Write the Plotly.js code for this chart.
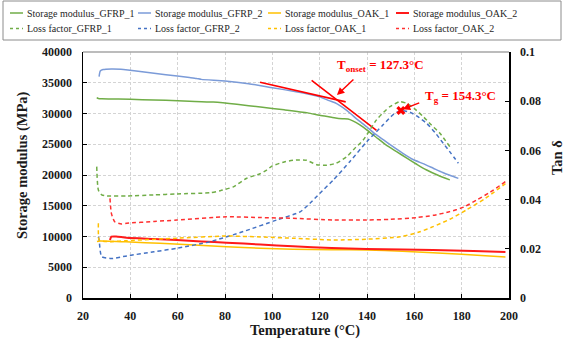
<!DOCTYPE html>
<html>
<head>
<meta charset="utf-8">
<script src="https://cdn.plot.ly/plotly-3.0.1.min.js"></script>
<style>
  html, body { margin: 0; padding: 0; background: #fff; }
  #chart { width: 565px; height: 341px; }
</style>
</head>
<body>
<div id="chart"></div>
<script>
// ---- Storage modulus (MPa) vs temperature (°C) ----
const smGfrp1T = [25.8, 26.5, 28, 35, 45, 55, 65, 75, 85, 95, 105, 115, 120, 125, 128, 130, 132, 134, 137, 140, 144, 148, 152.5, 157, 161, 165, 170, 175];
const smGfrp1  = [32600, 32450, 32400, 32350, 32250, 32150, 32000, 31850, 31500, 31050, 30600, 30100, 29700, 29400, 29200, 29150, 29100, 28800, 28150, 27300, 26100, 24900, 23800, 22700, 21750, 20850, 19950, 19200];

const smGfrp2T = [26.8, 27.3, 28.5, 32, 36, 45, 55, 65, 68, 70, 80, 90, 100, 110, 116, 120, 124, 127, 130, 133, 136, 140, 143, 147, 151, 155, 159, 164, 168, 172, 175, 178.6];
const smGfrp2  = [36000, 36900, 37150, 37250, 37200, 36800, 36300, 35850, 35700, 35550, 35300, 34850, 34200, 33550, 33100, 32700, 32100, 31650, 30900, 30000, 29000, 27800, 26800, 25700, 24600, 23550, 22600, 21800, 21100, 20400, 19950, 19450];

const smOak1T = [25.9, 27.2, 40, 52.5, 65, 80.7, 95, 108.7, 125, 139.9, 155, 167.9, 180, 190, 198.5];
const smOak1  = [9200, 9270, 9100, 8890, 8650, 8340, 8100, 7920, 7850, 7800, 7600, 7370, 7100, 6850, 6650];

const smOak2T = [31.4, 32, 34, 38.4, 50, 59.6, 70, 80.7, 95, 108.7, 125, 139.8, 155, 167.9, 185, 198.5];
const smOak2  = [9430, 9970, 10000, 9800, 9600, 9430, 9200, 8990, 8700, 8400, 8150, 7970, 7880, 7800, 7650, 7500];

// ---- Loss factor (tan δ) vs temperature (°C) ----
const lfGfrp1T = [25.8, 26.5, 27.9, 30, 38.4, 50, 59.6, 73.7, 78, 83.5, 89.2, 94.8, 97.6, 100, 105, 110, 114.5, 118.7, 123, 127, 131.4, 134.5, 138.4, 141, 144, 147, 149.7, 153.9, 156.8, 160, 163.8, 167, 170.8, 175];
const lfGfrp1  = [0.0534, 0.0439, 0.0419, 0.0415, 0.0415, 0.0419, 0.0423, 0.0428, 0.0436, 0.0452, 0.0487, 0.0505, 0.0520, 0.0537, 0.0553, 0.0561, 0.0560, 0.0542, 0.0540, 0.0548, 0.0574, 0.0605, 0.0642, 0.0680, 0.0724, 0.0755, 0.0778, 0.0798, 0.0791, 0.0770, 0.0737, 0.0705, 0.0670, 0.0615];

const lfGfrp2T = [26.5, 26.8, 27.9, 31.4, 32.7, 38.5, 50, 59.6, 73.7, 87.7, 101.8, 111.7, 115.9, 120, 125.8, 132.8, 139.9, 146.9, 151, 154.3, 158.2, 161.5, 165.2, 168.8, 172.2, 175.5, 178.6];
const lfGfrp2  = [0.0249, 0.0236, 0.0168, 0.0161, 0.0161, 0.0171, 0.0188, 0.0202, 0.0229, 0.0270, 0.0317, 0.0350, 0.0385, 0.0425, 0.0480, 0.0555, 0.0635, 0.0705, 0.0745, 0.0762, 0.0755, 0.0737, 0.0710, 0.0672, 0.0629, 0.0588, 0.0548];

const lfOak1T = [26.5, 26.8, 28, 31.4, 38.5, 59.6, 80.7, 95, 108.7, 125.8, 139.9, 154, 162, 167.9, 175, 182, 190, 198.5];
const lfOak1  = [0.0304, 0.0236, 0.0231, 0.0229, 0.0233, 0.0243, 0.0252, 0.0248, 0.0243, 0.0236, 0.0239, 0.0249, 0.0268, 0.0290, 0.0320, 0.0358, 0.0405, 0.0465];

const lfOak2T = [31.4, 32, 33.4, 36.3, 38.5, 50, 59.6, 80.7, 95, 108.7, 125.8, 139.9, 150, 161, 168, 175, 181, 186.3, 192, 198.5];
const lfOak2  = [0.0405, 0.0344, 0.0310, 0.0301, 0.0304, 0.0311, 0.0317, 0.0330, 0.0327, 0.0324, 0.0317, 0.0317, 0.0320, 0.0327, 0.0336, 0.0351, 0.0370, 0.0398, 0.0430, 0.0473];

// ---- Onset tangents on GFRP_2 storage modulus, and Tg peak ----
const onsetTemp = 127.3;
const tangentGlassyT = [94.8, 131];
const tangentGlassy  = [35070, 31890];
const tangentDropT   = [116.6, 144];
const tangentDrop    = [35388, 27266];
const tgTemp = 154.3;
const tgTanDelta = 0.0762;

// ---- Axis tick values ----
const tempTicks = [20, 40, 60, 80, 100, 120, 140, 160, 180, 200];
const modulusTicks = [0, 5000, 10000, 15000, 20000, 25000, 30000, 35000, 40000];
const tanTicks = [0, 0.02, 0.04, 0.06, 0.08, 0.1];

const SERIF = 'Liberation Serif, Times New Roman, serif';
const RED = '#ff0000';

// Series list (legend columns GFRP_1, GFRP_2, OAK_1, OAK_2; storage row then loss row)
const series = [
  { name: 'Storage modulus_GFRP_1', x: smGfrp1T, y: smGfrp1, color: '#70ad47', loss: false, col: 0 },
  { name: 'Storage modulus_GFRP_2', x: smGfrp2T, y: smGfrp2, color: '#7b9bd8', loss: false, col: 1 },
  { name: 'Storage modulus_OAK_1',  x: smOak1T,  y: smOak1,  color: '#ffc000', loss: false, col: 2 },
  { name: 'Storage modulus_OAK_2',  x: smOak2T,  y: smOak2,  color: '#ff1a1a', loss: false, col: 3, width: 2 },
  { name: 'Loss factor_GFRP_1', x: lfGfrp1T, y: lfGfrp1, color: '#70ad47', loss: true, col: 0 },
  { name: 'Loss factor_GFRP_2', x: lfGfrp2T, y: lfGfrp2, color: '#4472c4', loss: true, col: 1 },
  { name: 'Loss factor_OAK_1',  x: lfOak1T,  y: lfOak1,  color: '#ffc000', loss: true, col: 2 },
  { name: 'Loss factor_OAK_2',  x: lfOak2T,  y: lfOak2,  color: '#ff3030', loss: true, col: 3 }
];
const LOSS_DASH = '4px,3px';

const traces = series.map(s => ({
  type: 'scatter', mode: 'lines', name: s.name,
  x: s.x, y: s.y, yaxis: s.loss ? 'y2' : 'y',
  line: { color: s.color, width: s.width || 1.5, dash: s.loss ? LOSS_DASH : 'solid', shape: 'spline', smoothing: 0.6 },
  hoverinfo: 'x+y+name'
}));

traces.push(
  { type: 'scatter', mode: 'lines', x: tangentGlassyT, y: tangentGlassy, yaxis: 'y',
    line: { color: RED, width: 1.6 }, showlegend: false, hoverinfo: 'skip' },
  { type: 'scatter', mode: 'lines', x: tangentDropT, y: tangentDrop, yaxis: 'y',
    line: { color: RED, width: 1.6 }, showlegend: false, hoverinfo: 'skip' },
  { type: 'scatter', mode: 'markers', x: [tgTemp], y: [tgTanDelta], yaxis: 'y2',
    marker: { symbol: 'x', size: 8, color: RED, line: { width: 0 } }, showlegend: false, hoverinfo: 'x+y' }
);

// Plot-area geometry (pixels) used to place the figure furniture
const W = 565, H = 341;
const M = { l: 83, r: 56, t: 52, b: 43 };
const plotW = W - M.l - M.r, plotH = H - M.t - M.b;
const px2x = px => (px - M.l) / plotW;
const py2y = py => (H - M.b - py) / plotH;

const annotations = [];
const shapes = [];

// Axis titles
const titleFont = { family: SERIF, size: 14.5, color: '#1a1a1a', weight: 'bold' };
annotations.push(
  { text: 'Temperature (°C)', xref: 'paper', yref: 'paper', x: px2x(305), y: py2y(330),
    xanchor: 'center', yanchor: 'middle', showarrow: false, font: titleFont },
  { text: 'Storage modulus (MPa)', xref: 'paper', yref: 'paper', x: px2x(22), y: py2y(165),
    xanchor: 'center', yanchor: 'middle', textangle: -90, showarrow: false, font: titleFont },
  { text: 'Tan δ', xref: 'paper', yref: 'paper', x: px2x(557), y: py2y(158),
    xanchor: 'center', yanchor: 'middle', textangle: -90, showarrow: false, font: titleFont }
);

// Onset and Tg call-outs
const calloutFont = { family: SERIF, size: 13, color: RED, weight: 'bold' };
annotations.push(
  { text: 'T<sub>onset</sub> = ' + onsetTemp.toFixed(1) + '°C', xref: 'paper', yref: 'paper',
    x: px2x(335), y: py2y(65), xanchor: 'left', yanchor: 'middle', showarrow: false, font: calloutFont },
  { text: 'T<sub>g</sub> = ' + tgTemp.toFixed(1) + '°C', xref: 'paper', yref: 'paper',
    x: px2x(423), y: py2y(96), xanchor: 'left', yanchor: 'middle', showarrow: false, font: calloutFont },
  { text: '', x: onsetTemp, y: 33000, xref: 'x', yref: 'y', showarrow: true,
    ax: 18, ay: -17, arrowhead: 2, arrowsize: 1, arrowwidth: 1.5, arrowcolor: RED, standoff: 0 },
  { text: '', x: tgTemp + 0.8, y: tgTanDelta + 0.0005, xref: 'x', yref: 'y2', showarrow: true,
    ax: 18, ay: -7, arrowhead: 2, arrowsize: 1, arrowwidth: 1.5, arrowcolor: RED, standoff: 0 }
);

// Legend: four columns, storage modulus on the first row, loss factor on the second
const legendTextX = [25, 153, 283, 411];
const legendRowY = [13, 28.5];
const legendFont = { family: SERIF, size: 10, color: '#262626' };
series.forEach(s => {
  const tx = legendTextX[s.col];
  const ry = legendRowY[s.loss ? 1 : 0];
  shapes.push({ type: 'line', xref: 'paper', yref: 'paper',
    x0: px2x(tx - 15), x1: px2x(tx - 2), y0: py2y(ry), y1: py2y(ry),
    line: { color: s.color, width: s.width || 1.5, dash: s.loss ? '3px,3px' : 'solid' } });
  annotations.push({ text: s.name, xref: 'paper', yref: 'paper', x: px2x(tx), y: py2y(ry),
    xanchor: 'left', yanchor: 'middle', showarrow: false, font: legendFont });
});
shapes.push({ type: 'rect', xref: 'paper', yref: 'paper',
  x0: px2x(3), x1: px2x(561), y0: py2y(40), y1: py2y(1),
  line: { color: '#8c8c8c', width: 1 }, fillcolor: 'rgba(0,0,0,0)' });

// Grey top edge of the plot frame
shapes.push({ type: 'line', xref: 'paper', yref: 'paper', x0: 0, x1: 1, y0: 1, y1: 1,
  line: { color: '#a6a6a6', width: 1.5 } });

const tickFont = { family: SERIF, size: 12, color: '#1a1a1a', weight: 'bold' };
const gridStyle = { showgrid: true, gridcolor: '#d4d4d4', gridwidth: 1, griddash: '3px,2px' };

const layout = {
  width: W, height: H, autosize: false,
  margin: { l: M.l, r: M.r, t: M.t, b: M.b, pad: 0 },
  paper_bgcolor: '#ffffff', plot_bgcolor: '#ffffff',
  showlegend: false,
  font: { family: SERIF, color: '#1a1a1a' },
  xaxis: Object.assign({
    range: [20, 200], tickmode: 'array', tickvals: tempTicks,
    showline: true, linecolor: '#000', linewidth: 1.5,
    ticks: 'inside', ticklen: 4, tickcolor: '#000', tickwidth: 1,
    zeroline: false, tickfont: tickFont, ticklabelstandoff: 6
  }, gridStyle),
  yaxis: Object.assign({
    range: [0, 40000], tickmode: 'array', tickvals: modulusTicks,
    ticktext: modulusTicks.map(v => String(v)),
    showline: true, linecolor: '#000', linewidth: 1.5,
    ticks: 'inside', ticklen: 4, tickcolor: '#000', tickwidth: 1,
    zeroline: false, tickfont: tickFont, ticklabelstandoff: 7
  }, gridStyle),
  yaxis2: {
    overlaying: 'y', side: 'right', range: [0, 0.1], tickmode: 'array', tickvals: tanTicks,
    showgrid: false, zeroline: false,
    showline: true, linecolor: '#000', linewidth: 1.5,
    ticks: 'inside', ticklen: 4, tickcolor: '#000', tickwidth: 1,
    tickfont: tickFont, ticklabelstandoff: 7
  },
  annotations: annotations,
  shapes: shapes
};

Plotly.newPlot('chart', traces, layout, { staticPlot: true, displayModeBar: false });
</script>
</body>
</html>
